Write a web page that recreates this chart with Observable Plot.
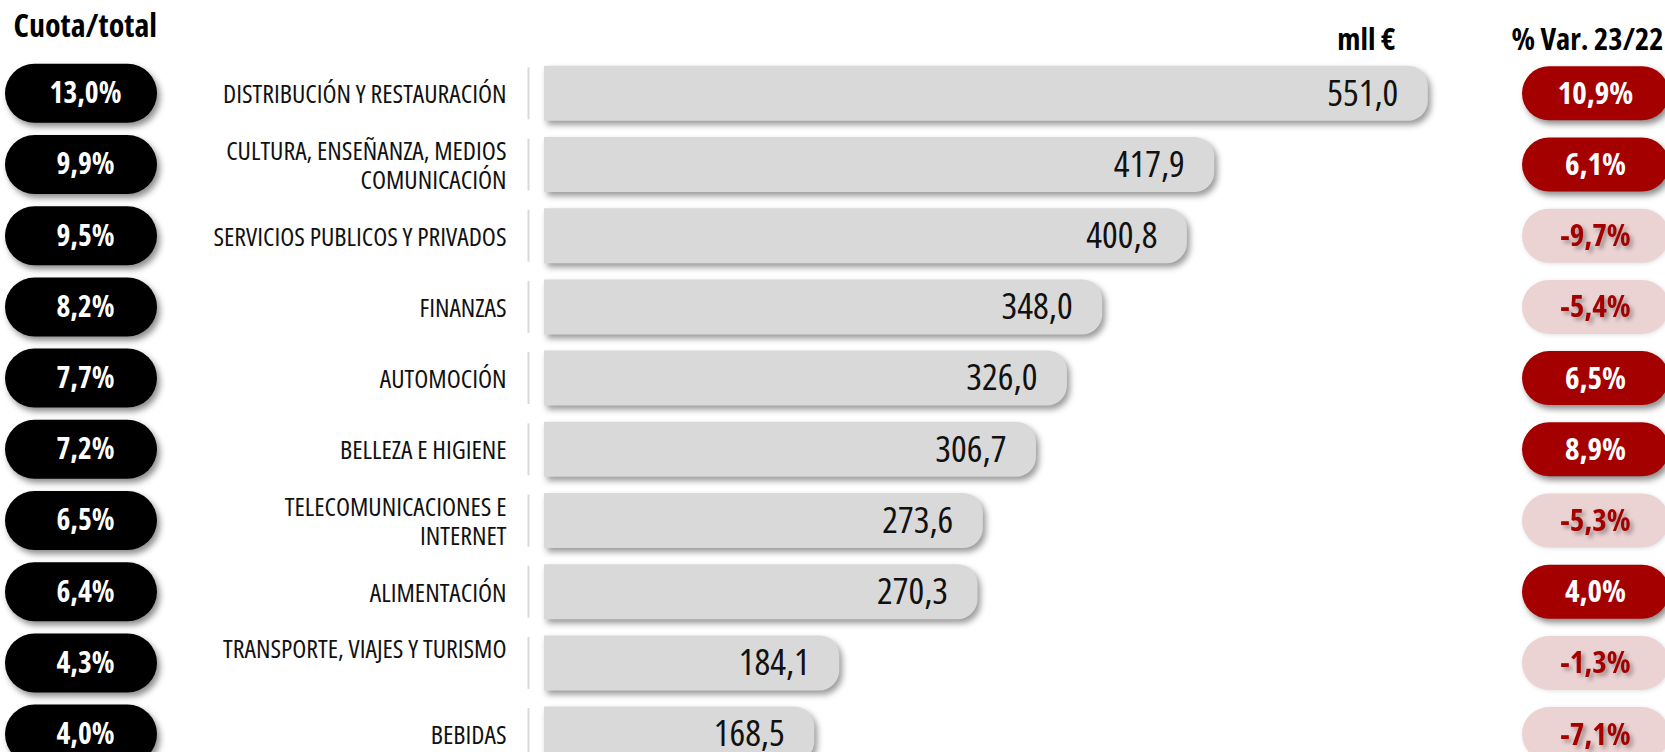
<!DOCTYPE html>
<html>
<head>
<meta charset="utf-8">
<script src="https://cdn.jsdelivr.net/npm/d3@7"></script>
<script src="https://cdn.jsdelivr.net/npm/@observablehq/plot@0.6"></script>
<style>
  html, body { margin: 0; padding: 0; background: #fff; overflow: hidden; }
  #chart svg { display: block; }
</style>
</head>
<body>
<div id="chart"></div>
<script>
// ---- data ----
const categories = [
  "DISTRIBUCIÓN Y RESTAURACIÓN",
  "CULTURA, ENSEÑANZA, MEDIOS\nCOMUNICACIÓN",
  "SERVICIOS PUBLICOS Y PRIVADOS",
  "FINANZAS",
  "AUTOMOCIÓN",
  "BELLEZA E HIGIENE",
  "TELECOMUNICACIONES E\nINTERNET",
  "ALIMENTACIÓN",
  "TRANSPORTE, VIAJES Y TURISMO\n",
  "BEBIDAS"
];
const values  = [551.0, 417.9, 400.8, 348.0, 326.0, 306.7, 273.6, 270.3, 184.1, 168.5]; // mll €
const shares  = [13.0, 9.9, 9.5, 8.2, 7.7, 7.2, 6.5, 6.4, 4.3, 4.0];                    // Cuota/total %
const changes = [10.9, 6.1, -9.7, -5.4, 6.5, 8.9, -5.3, 4.0, -1.3, -7.1];               // % Var. 23/22
const headers = {share: "Cuota/total", value: "mll €", change: "% Var. 23/22"};

// ---- layout ----
const W = 1665, H = 752;
const rowTop = 57.7, rowStep = 71.2;
const zeroX = 544, pxPerUnit = 1.604;
const red = "#a50000", pink = "#ecd3d3", barGray = "#d9d9d9";

const rows = categories.map((cat, i) => ({cat, value: values[i], share: shares[i], change: changes[i]}));
const fmt1 = v => v.toFixed(1).replace(".", ",");
const svgns = "http://www.w3.org/2000/svg";

function shadow(css) {
  return (index, scales, vals, dims, ctx, next) => {
    const g = next(index, scales, vals, dims, ctx);
    g.style.filter = css;
    return g;
  };
}
function roundRight(r, css) {
  return (index, scales, vals, dims, ctx, next) => {
    const g = next(index, scales, vals, dims, ctx);
    for (const rect of [...g.querySelectorAll("rect")]) {
      const x = +rect.getAttribute("x"), y = +rect.getAttribute("y");
      const w = +rect.getAttribute("width"), h = +rect.getAttribute("height");
      const p = document.createElementNS(svgns, "path");
      p.setAttribute("d", `M${x},${y}H${x + w - r}A${r},${r} 0 0 1 ${x + w},${y + r}V${y + h - r}A${r},${r} 0 0 1 ${x + w - r},${y + h}H${x}Z`);
      for (const a of ["fill", "transform"]) if (rect.hasAttribute(a)) p.setAttribute(a, rect.getAttribute(a));
      rect.replaceWith(p);
    }
    g.style.filter = css;
    return g;
  };
}

const band = rowStep;
const leftPillH = 59, barH = 55, rightPillH = 54;
const pillShadow = "drop-shadow(3px 4px 3px rgba(0,0,0,0.45))";

const chart = Plot.plot({
  width: W,
  height: H,
  margin: 0,
  style: {fontFamily: "'Open Sans', sans-serif", fontStretch: "75%", overflow: "hidden", background: "#fff"},
  x: {domain: [0, 700], range: [zeroX, zeroX + 700 * pxPerUnit], axis: null},
  y: {type: "band", domain: categories, range: [rowTop, rowTop + rowStep * categories.length], padding: 0, round: false, axis: null},
  marks: [
    // headers
    Plot.text([headers.share], {frameAnchor: "top-left", dx: 13, dy: 36, lineAnchor: "bottom", textAnchor: "start", fontSize: 32, fontWeight: 700, fill: "#000"}),
    Plot.text([headers.value], {frameAnchor: "top-left", dx: 1395, dy: 49, lineAnchor: "bottom", textAnchor: "end", fontSize: 31, fontWeight: 700, fill: "#000"}),
    Plot.text([headers.change], {frameAnchor: "top-left", dx: 1587, dy: 49, lineAnchor: "bottom", textAnchor: "middle", fontSize: 30.5, fontWeight: 700, fill: "#000"}),

    // left share pills
    Plot.cell(rows, {y: "cat", fill: "#000", insetLeft: 5, insetRight: W - 157,
      insetTop: (band - leftPillH) / 2, insetBottom: (band - leftPillH) / 2, rx: leftPillH / 2,
      render: shadow(pillShadow)}),
    Plot.text(rows, {y: "cat", text: d => fmt1(d.share) + "%", frameAnchor: "left", dx: 85,
      textAnchor: "middle", fill: "#fff", fontSize: 29.5, fontWeight: 700}),

    // category labels
    Plot.text(rows, {y: "cat", text: "cat", frameAnchor: "left", dx: 506, textAnchor: "end",
      lineAnchor: "middle", lineHeight: 1.15, fontSize: 25.8, fill: "#111"}),

    // separators
    Plot.tickX(rows, {x: 0, y: "cat", dx: -16, insetTop: (band - 52) / 2, insetBottom: (band - 52) / 2,
      stroke: "#d9d9d9", strokeWidth: 2}),

    // bars
    Plot.barX(rows, {x: "value", y: "cat", fill: barGray,
      insetTop: (band - barH) / 2, insetBottom: (band - barH) / 2,
      render: roundRight(20, "drop-shadow(3px 4px 3px rgba(0,0,0,0.4))")}),
    Plot.text(rows, {x: "value", y: "cat", text: d => fmt1(d.value), textAnchor: "end", dx: -30,
      fontSize: 37, fontWeight: 400, fill: "#111"}),

    // right change pills
    Plot.cell(rows.filter(d => d.change >= 0), {y: "cat", fill: red, insetLeft: 1522, insetRight: -4,
      insetTop: (band - rightPillH) / 2, insetBottom: (band - rightPillH) / 2, rx: rightPillH / 2,
      render: shadow(pillShadow)}),
    Plot.cell(rows.filter(d => d.change < 0), {y: "cat", fill: pink, insetLeft: 1522, insetRight: -4,
      insetTop: (band - rightPillH) / 2, insetBottom: (band - rightPillH) / 2, rx: rightPillH / 2,
      render: shadow("drop-shadow(1px 1px 2px rgba(0,0,0,0.12))")}),
    Plot.text(rows.filter(d => d.change >= 0), {y: "cat", text: d => fmt1(d.change) + "%", frameAnchor: "left", dx: 1595,
      textAnchor: "middle", fill: "#fff", fontSize: 31, fontWeight: 700}),
    Plot.text(rows.filter(d => d.change < 0), {y: "cat", text: d => fmt1(d.change) + "%", frameAnchor: "left", dx: 1595,
      textAnchor: "middle", fill: red, fontSize: 31, fontWeight: 700,
      render: shadow("drop-shadow(3px 3px 2px rgba(0,0,0,0.35))")})
  ]
});
document.getElementById("chart").append(chart);
</script>
</body>
</html>
